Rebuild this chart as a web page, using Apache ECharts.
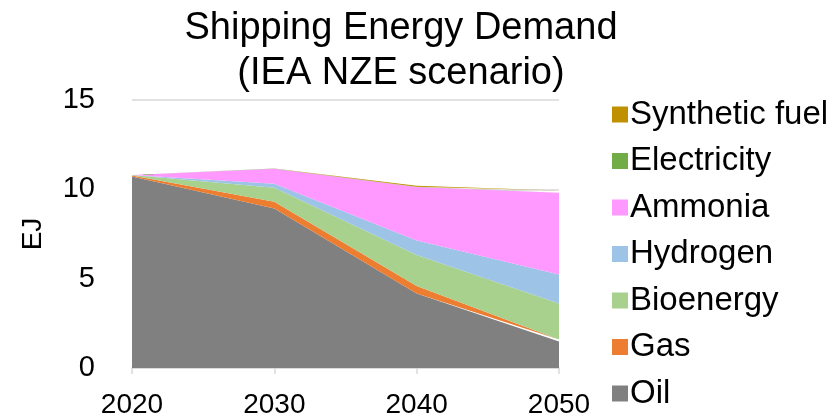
<!DOCTYPE html>
<html>
<head>
<meta charset="utf-8">
<script src="https://cdn.jsdelivr.net/npm/echarts@6/dist/echarts.min.js"></script>
<style>html,body{margin:0;padding:0;background:#fff;}#c{width:836px;height:419px;}</style>
</head>
<body>
<div id="c"></div>
<script>
const years = ['2020', '2030', '2040', '2050'];
const oil = [10.72, 8.93, 4.17, 1.48];
const gas = [0.05, 0.37, 0.42, 0.11];
const bioenergy = [0.03, 0.79, 1.74, 2.02];
const hydrogen = [0.0, 0.22, 0.80, 1.63];
const ammonia = [0.0, 0.84, 3.00, 4.57];
const electricity = [0.0, 0.01, 0.02, 0.03];
const syntheticFuel = [0.0, 0.01, 0.05, 0.10];
const yTicks = [0, 5, 10, 15];

const FONT = '"Liberation Sans", Arial, sans-serif';
const seriesDefs = [
  ['Oil', oil, '#808080'],
  ['Gas', gas, '#ED7D31'],
  ['Bioenergy', bioenergy, '#A9D18E'],
  ['Hydrogen', hydrogen, '#9DC3E6'],
  ['Ammonia', ammonia, '#FF99FF'],
  ['Electricity', electricity, '#70AD47'],
  ['Synthetic fuel', syntheticFuel, '#BF9000']
];

const chart = echarts.init(document.getElementById('c'), null, {renderer: 'canvas'});
chart.setOption({
  animation: false,
  backgroundColor: '#fff',
  title: {
    text: 'Shipping Energy Demand\n(IEA NZE scenario)',
    left: 396,
    textAlign: 'center',
    top: 1,
    textStyle: {fontFamily: FONT, fontSize: 38, fontWeight: 'normal', color: '#000', lineHeight: 45}
  },
  legend: {
    orient: 'vertical',
    left: 607,
    top: 93,
    itemWidth: 16,
    itemHeight: 16,
    itemGap: 13.5,
    icon: 'rect',
    data: seriesDefs.map(d => d[0]).reverse(),
    textStyle: {fontFamily: FONT, fontSize: 33, color: '#000', lineHeight: 32, padding: [0, 0, 0, -3]}
  },
  grid: {left: 132, right: 277, top: 100, bottom: 49, containLabel: false},
  xAxis: {
    type: 'category',
    data: years,
    boundaryGap: false,
    axisLine: {show: true, lineStyle: {color: '#D9D9D9', width: 1.5}},
    axisTick: {show: true, length: 6, lineStyle: {color: '#D9D9D9', width: 1.5}},
    axisLabel: {fontFamily: FONT, fontSize: 28, color: '#000', margin: 23}
  },
  yAxis: {
    type: 'value',
    min: yTicks[0],
    max: yTicks[yTicks.length - 1],
    interval: 5,
    name: 'EJ',
    nameLocation: 'middle',
    nameRotate: 90,
    nameGap: 85,
    nameTextStyle: {fontFamily: FONT, fontSize: 28, color: '#000'},
    axisLine: {show: false},
    axisTick: {show: false},
    axisLabel: {fontFamily: FONT, fontSize: 29, color: '#000', margin: 37},
    splitLine: {show: true, lineStyle: {color: '#D9D9D9', width: 1.5}}
  },
  series: seriesDefs.map(([name, vals, color]) => ({
    name: name,
    type: 'line',
    stack: 'total',
    data: vals,
    showSymbol: false,
    symbol: 'none',
    lineStyle: {width: 0, color: color},
    itemStyle: {color: color},
    areaStyle: {color: color, opacity: 1}
  }))
});
</script>
</body>
</html>
